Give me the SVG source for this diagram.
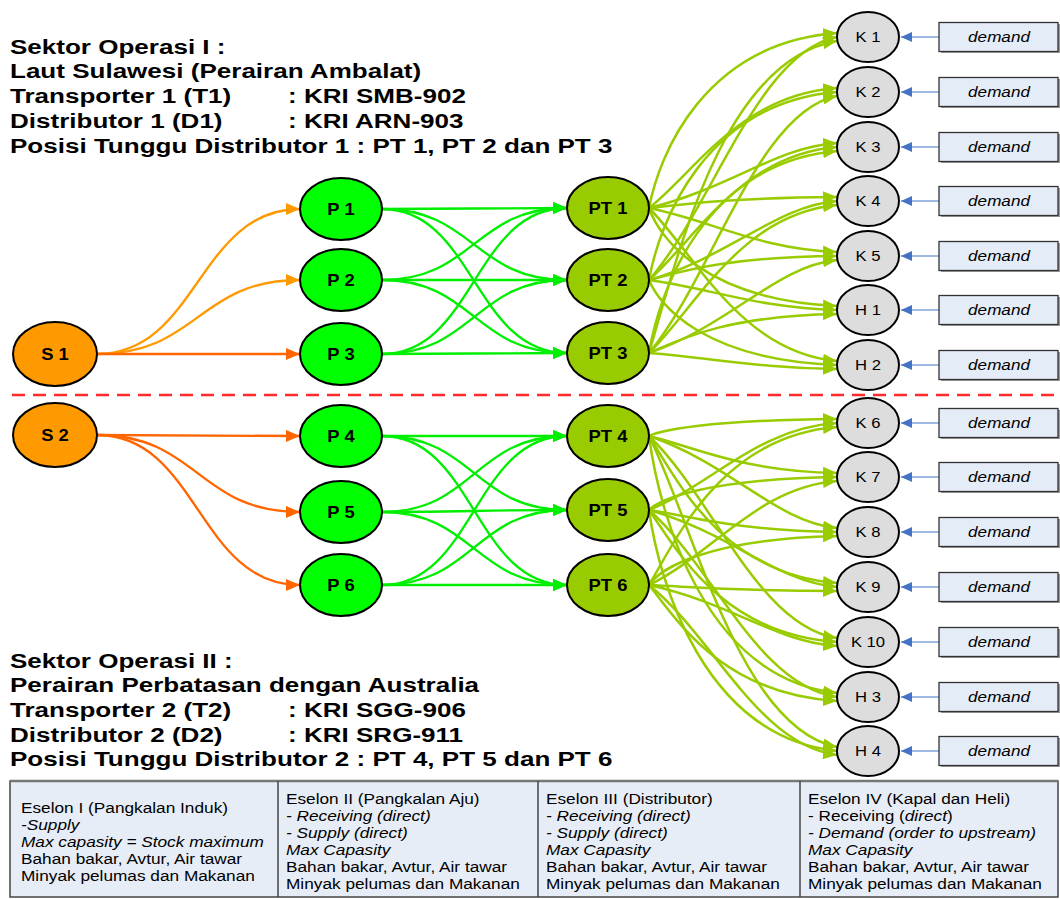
<svg xmlns="http://www.w3.org/2000/svg" width="1060" height="899" viewBox="0 0 1060 899">
<style>
text{font-family:"Liberation Sans",Arial,sans-serif;fill:#000}
.title{font-size:21px;font-weight:bold}
.nb{font-size:16px;font-weight:bold;text-anchor:middle}
.nk{font-size:14px;text-anchor:middle}
.dm{font-size:14.5px;font-style:italic;text-anchor:middle}
.tb{font-size:14.5px}
.it{font-style:italic}
ellipse{stroke:#000;stroke-width:2}
.s{fill:#FF9900}.p{fill:#00FF00}.pt{fill:#99CC00}.k{fill:#DDDDDD}
#connectors path,#connectors line{fill:none;stroke-width:2.3}
#connectors .ol{stroke-width:2.5}
.o1{stroke:#FF9900;marker-end:url(#mo1)}
.o2{stroke:#FF6600;marker-end:url(#mo2)}
.g{stroke:#00EE00;marker-end:url(#mg)}
.ol{stroke:#99CC00;marker-end:url(#mol)}
#connectors .bl{stroke:#7FA3D8;stroke-width:1.6;marker-end:url(#mb)}
.dbox{fill:#E4ECF7;stroke:#333;stroke-width:1.3}
.shadow{fill:#9a9a9a}
</style>
<defs>
<marker id="mo1" markerUnits="userSpaceOnUse" markerWidth="14" markerHeight="12" refX="14" refY="6" orient="auto"><path d="M0,0 L14,6 L0,12 z" style="fill:#FF9900;stroke:none"/></marker>
<marker id="mo2" markerUnits="userSpaceOnUse" markerWidth="14" markerHeight="12" refX="14" refY="6" orient="auto"><path d="M0,0 L14,6 L0,12 z" style="fill:#FF6600;stroke:none"/></marker>
<marker id="mg" markerUnits="userSpaceOnUse" markerWidth="14" markerHeight="12" refX="14" refY="6" orient="auto"><path d="M0,0 L14,6 L0,12 z" style="fill:#00EE00;stroke:none"/></marker>
<marker id="mol" markerUnits="userSpaceOnUse" markerWidth="14" markerHeight="12" refX="14" refY="6" orient="auto"><path d="M0,0 L14,6 L0,12 z" style="fill:#99CC00;stroke:none"/></marker>
<marker id="mb" markerUnits="userSpaceOnUse" markerWidth="11" markerHeight="10" refX="11" refY="5" orient="auto"><path d="M0,0 L11,5 L0,10 z" style="fill:#4472C4;stroke:none"/></marker>
</defs>
<rect width="1060" height="899" fill="#FFFFFF"/>

<g id="title1" class="title" transform="scale(1.24,1)">
<text x="8.06" y="54">Sektor Operasi I :</text>
<text x="8.06" y="78">Laut Sulawesi (Perairan Ambalat)</text>
<text x="8.06" y="103">Transporter 1 (T1)</text>
<text x="232.3" y="103">: KRI SMB-902</text>
<text x="8.06" y="128">Distributor 1 (D1)</text>
<text x="232.3" y="128">: KRI ARN-903</text>
<text x="8.06" y="153">Posisi Tunggu Distributor 1 : PT 1, PT 2 dan PT 3</text>
</g>
<g id="title2" class="title" transform="scale(1.24,1)">
<text x="8.06" y="668">Sektor Operasi II :</text>
<text x="8.06" y="692">Perairan Perbatasan dengan Australia</text>
<text x="8.06" y="717">Transporter 2 (T2)</text>
<text x="232.3" y="717">: KRI SGG-906</text>
<text x="8.06" y="742">Distributor 2 (D2)</text>
<text x="232.3" y="742">: KRI SRG-911</text>
<text x="8.06" y="766">Posisi Tunggu Distributor 2 : PT 4, PT 5 dan PT 6</text>
</g>

<line id="separator" x1="12" y1="395" x2="1060" y2="395" stroke="#FF2A2A" stroke-width="2.5" stroke-dasharray="13 8"/>

<g id="connectors">
<path class="o1" d="M97,354 C198,354 198,209 300,209"/>
<path class="o1" d="M97,354 C198,354 198,280 300,280"/>
<path class="o2" d="M97,354 L300,354"/>
<path class="o2" d="M97,435 L300,436"/>
<path class="o2" d="M97,435 C198,435 198,512 300,512"/>
<path class="o2" d="M97,435 C198,435 198,585 300,585"/>

<path class="g" d="M382,209 C474,209 474,208 567,208"/>
<path class="g" d="M382,209 C474,209 474,280 567,280"/>
<path class="g" d="M382,209 C474,209 474,353 567,353"/>
<path class="g" d="M382,280 C474,280 474,208 567,208"/>
<path class="g" d="M382,280 C474,280 474,280 567,280"/>
<path class="g" d="M382,280 C474,280 474,353 567,353"/>
<path class="g" d="M382,354 C474,354 474,208 567,208"/>
<path class="g" d="M382,354 C474,354 474,280 567,280"/>
<path class="g" d="M382,354 C474,354 474,353 567,353"/>

<path class="g" d="M382,436 C474,436 474,436 567,436"/>
<path class="g" d="M382,436 C474,436 474,510 567,510"/>
<path class="g" d="M382,436 C474,436 474,585 567,585"/>
<path class="g" d="M382,512 C474,512 474,436 567,436"/>
<path class="g" d="M382,512 C474,512 474,510 567,510"/>
<path class="g" d="M382,512 C474,512 474,585 567,585"/>
<path class="g" d="M382,585 C474,585 474,436 567,436"/>
<path class="g" d="M382,585 C474,585 474,510 567,510"/>
<path class="g" d="M382,585 C474,585 474,585 567,585"/>

<path class="ol" d="M649,208 C659,155 704,43 837,33"/>
<path class="ol" d="M649,208 C695,172 740,95 837,88"/>
<path class="ol" d="M649,208 C731,188 776,147 837,143"/>
<path class="ol" d="M649,208 C677,205 722,198 837,197"/>
<path class="ol" d="M649,208 C713,221 758,249 837,252"/>
<path class="ol" d="M649,208 C659,237 704,300 837,306"/>
<path class="ol" d="M649,208 C695,254 740,352 837,361"/>
<path class="ol" d="M649,280 C713,207 758,52 837,37"/>
<path class="ol" d="M649,280 C659,224 704,103 837,92"/>
<path class="ol" d="M649,280 C695,240 740,155 837,147"/>
<path class="ol" d="M649,280 C731,256 776,206 837,201"/>
<path class="ol" d="M649,280 C677,273 722,257 837,256"/>
<path class="ol" d="M649,280 C713,289 758,308 837,310"/>
<path class="ol" d="M649,280 C659,305 704,360 837,365"/>
<path class="ol" d="M649,353 C677,259 722,60 837,41"/>
<path class="ol" d="M649,353 C713,276 758,111 837,96"/>
<path class="ol" d="M649,353 C659,292 704,163 837,151"/>
<path class="ol" d="M649,353 C695,309 740,214 837,205"/>
<path class="ol" d="M649,353 C731,325 776,266 837,260"/>
<path class="ol" d="M649,353 C677,341 722,316 837,314"/>
<path class="ol" d="M649,353 C713,358 758,368 837,369"/>

<path class="ol" d="M649,436 C659,431 704,420 837,419"/>
<path class="ol" d="M649,436 C695,447 740,471 837,473"/>
<path class="ol" d="M649,436 C731,464 776,522 837,528"/>
<path class="ol" d="M649,436 C677,480 722,574 837,583"/>
<path class="ol" d="M649,436 C713,497 758,626 837,638"/>
<path class="ol" d="M649,436 C659,513 704,678 837,693"/>
<path class="ol" d="M649,436 C695,529 740,728 837,747"/>
<path class="ol" d="M649,510 C713,484 758,428 837,423"/>
<path class="ol" d="M649,510 C659,500 704,479 837,477"/>
<path class="ol" d="M649,510 C695,517 740,531 837,532"/>
<path class="ol" d="M649,510 C731,533 776,582 837,587"/>
<path class="ol" d="M649,510 C677,550 722,634 837,642"/>
<path class="ol" d="M649,510 C713,566 758,686 837,697"/>
<path class="ol" d="M649,510 C659,582 704,737 837,751"/>
<path class="ol" d="M649,585 C677,538 722,436 837,427"/>
<path class="ol" d="M649,585 C713,554 758,487 837,481"/>
<path class="ol" d="M649,585 C659,570 704,539 837,536"/>
<path class="ol" d="M649,585 C695,587 740,591 837,591"/>
<path class="ol" d="M649,585 C731,603 776,642 837,646"/>
<path class="ol" d="M649,585 C677,620 722,694 837,701"/>
<path class="ol" d="M649,585 C713,636 758,745 837,755"/>

<line class="bl" x1="939" y1="37" x2="901" y2="37"/>
<line class="bl" x1="939" y1="92" x2="901" y2="92"/>
<line class="bl" x1="939" y1="147" x2="901" y2="147"/>
<line class="bl" x1="939" y1="201" x2="901" y2="201"/>
<line class="bl" x1="939" y1="256" x2="901" y2="256"/>
<line class="bl" x1="939" y1="310" x2="901" y2="310"/>
<line class="bl" x1="939" y1="365" x2="901" y2="365"/>
<line class="bl" x1="939" y1="423" x2="901" y2="423"/>
<line class="bl" x1="939" y1="477" x2="901" y2="477"/>
<line class="bl" x1="939" y1="532" x2="901" y2="532"/>
<line class="bl" x1="939" y1="587" x2="901" y2="587"/>
<line class="bl" x1="939" y1="642" x2="901" y2="642"/>
<line class="bl" x1="939" y1="697" x2="901" y2="697"/>
<line class="bl" x1="939" y1="751" x2="901" y2="751"/>
</g>

<g id="S1"><ellipse class="s" cx="55" cy="354" rx="42" ry="32"/><text class="nb" transform="translate(55,354) scale(1.15,1)" y="5.5">S 1</text></g>
<g id="S2"><ellipse class="s" cx="55" cy="435" rx="42" ry="32"/><text class="nb" transform="translate(55,435) scale(1.15,1)" y="5.5">S 2</text></g>

<g id="P1"><ellipse class="p" cx="341" cy="209" rx="41" ry="31"/><text class="nb" transform="translate(341,209) scale(1.15,1)" y="5.5">P 1</text></g>
<g id="P2"><ellipse class="p" cx="341" cy="280" rx="41" ry="31"/><text class="nb" transform="translate(341,280) scale(1.15,1)" y="5.5">P 2</text></g>
<g id="P3"><ellipse class="p" cx="341" cy="354" rx="41" ry="31"/><text class="nb" transform="translate(341,354) scale(1.15,1)" y="5.5">P 3</text></g>
<g id="P4"><ellipse class="p" cx="341" cy="436" rx="41" ry="31"/><text class="nb" transform="translate(341,436) scale(1.15,1)" y="5.5">P 4</text></g>
<g id="P5"><ellipse class="p" cx="341" cy="512" rx="41" ry="31"/><text class="nb" transform="translate(341,512) scale(1.15,1)" y="5.5">P 5</text></g>
<g id="P6"><ellipse class="p" cx="341" cy="585" rx="41" ry="31"/><text class="nb" transform="translate(341,585) scale(1.15,1)" y="5.5">P 6</text></g>

<g id="PT1"><ellipse class="pt" cx="608" cy="208" rx="41" ry="31"/><text class="nb" transform="translate(608,208) scale(1.15,1)" y="5.5">PT 1</text></g>
<g id="PT2"><ellipse class="pt" cx="608" cy="280" rx="41" ry="31"/><text class="nb" transform="translate(608,280) scale(1.15,1)" y="5.5">PT 2</text></g>
<g id="PT3"><ellipse class="pt" cx="608" cy="353" rx="41" ry="31"/><text class="nb" transform="translate(608,353) scale(1.15,1)" y="5.5">PT 3</text></g>
<g id="PT4"><ellipse class="pt" cx="608" cy="436" rx="41" ry="31"/><text class="nb" transform="translate(608,436) scale(1.15,1)" y="5.5">PT 4</text></g>
<g id="PT5"><ellipse class="pt" cx="608" cy="510" rx="41" ry="31"/><text class="nb" transform="translate(608,510) scale(1.15,1)" y="5.5">PT 5</text></g>
<g id="PT6"><ellipse class="pt" cx="608" cy="585" rx="41" ry="31"/><text class="nb" transform="translate(608,585) scale(1.15,1)" y="5.5">PT 6</text></g>

<g id="K1"><ellipse class="k" cx="868" cy="37" rx="31" ry="25"/><text class="nk" transform="translate(868,37) scale(1.19,1)" y="5">K 1</text></g>
<g id="K2"><ellipse class="k" cx="868" cy="92" rx="31" ry="25"/><text class="nk" transform="translate(868,92) scale(1.19,1)" y="5">K 2</text></g>
<g id="K3"><ellipse class="k" cx="868" cy="147" rx="31" ry="25"/><text class="nk" transform="translate(868,147) scale(1.19,1)" y="5">K 3</text></g>
<g id="K4"><ellipse class="k" cx="868" cy="201" rx="31" ry="25"/><text class="nk" transform="translate(868,201) scale(1.19,1)" y="5">K 4</text></g>
<g id="K5"><ellipse class="k" cx="868" cy="256" rx="31" ry="25"/><text class="nk" transform="translate(868,256) scale(1.19,1)" y="5">K 5</text></g>
<g id="H1"><ellipse class="k" cx="868" cy="310" rx="31" ry="25"/><text class="nk" transform="translate(868,310) scale(1.19,1)" y="5">H 1</text></g>
<g id="H2"><ellipse class="k" cx="868" cy="365" rx="31" ry="25"/><text class="nk" transform="translate(868,365) scale(1.19,1)" y="5">H 2</text></g>
<g id="K6"><ellipse class="k" cx="868" cy="423" rx="31" ry="25"/><text class="nk" transform="translate(868,423) scale(1.19,1)" y="5">K 6</text></g>
<g id="K7"><ellipse class="k" cx="868" cy="477" rx="31" ry="25"/><text class="nk" transform="translate(868,477) scale(1.19,1)" y="5">K 7</text></g>
<g id="K8"><ellipse class="k" cx="868" cy="532" rx="31" ry="25"/><text class="nk" transform="translate(868,532) scale(1.19,1)" y="5">K 8</text></g>
<g id="K9"><ellipse class="k" cx="868" cy="587" rx="31" ry="25"/><text class="nk" transform="translate(868,587) scale(1.19,1)" y="5">K 9</text></g>
<g id="K10"><ellipse class="k" cx="868" cy="642" rx="31" ry="25"/><text class="nk" transform="translate(868,642) scale(1.19,1)" y="5">K 10</text></g>
<g id="H3"><ellipse class="k" cx="868" cy="697" rx="31" ry="25"/><text class="nk" transform="translate(868,697) scale(1.19,1)" y="5">H 3</text></g>
<g id="H4"><ellipse class="k" cx="868" cy="751" rx="31" ry="25"/><text class="nk" transform="translate(868,751) scale(1.19,1)" y="5">H 4</text></g>

<g id="D1"><rect class="shadow" x="941" y="24" width="120" height="29"/><rect class="dbox" x="939" y="22.5" width="119" height="29"/><text class="dm" transform="translate(999,37) scale(1.18,1)" y="5">demand</text></g>
<g id="D2"><rect class="shadow" x="941" y="79" width="120" height="29"/><rect class="dbox" x="939" y="77.5" width="119" height="29"/><text class="dm" transform="translate(999,92) scale(1.18,1)" y="5">demand</text></g>
<g id="D3"><rect class="shadow" x="941" y="134" width="120" height="29"/><rect class="dbox" x="939" y="132.5" width="119" height="29"/><text class="dm" transform="translate(999,147) scale(1.18,1)" y="5">demand</text></g>
<g id="D4"><rect class="shadow" x="941" y="188" width="120" height="29"/><rect class="dbox" x="939" y="186.5" width="119" height="29"/><text class="dm" transform="translate(999,201) scale(1.18,1)" y="5">demand</text></g>
<g id="D5"><rect class="shadow" x="941" y="243" width="120" height="29"/><rect class="dbox" x="939" y="241.5" width="119" height="29"/><text class="dm" transform="translate(999,256) scale(1.18,1)" y="5">demand</text></g>
<g id="D6"><rect class="shadow" x="941" y="297" width="120" height="29"/><rect class="dbox" x="939" y="295.5" width="119" height="29"/><text class="dm" transform="translate(999,310) scale(1.18,1)" y="5">demand</text></g>
<g id="D7"><rect class="shadow" x="941" y="352" width="120" height="29"/><rect class="dbox" x="939" y="350.5" width="119" height="29"/><text class="dm" transform="translate(999,365) scale(1.18,1)" y="5">demand</text></g>
<g id="D8"><rect class="shadow" x="941" y="410" width="120" height="29"/><rect class="dbox" x="939" y="408.5" width="119" height="29"/><text class="dm" transform="translate(999,423) scale(1.18,1)" y="5">demand</text></g>
<g id="D9"><rect class="shadow" x="941" y="464" width="120" height="29"/><rect class="dbox" x="939" y="462.5" width="119" height="29"/><text class="dm" transform="translate(999,477) scale(1.18,1)" y="5">demand</text></g>
<g id="D10"><rect class="shadow" x="941" y="519" width="120" height="29"/><rect class="dbox" x="939" y="517.5" width="119" height="29"/><text class="dm" transform="translate(999,532) scale(1.18,1)" y="5">demand</text></g>
<g id="D11"><rect class="shadow" x="941" y="574" width="120" height="29"/><rect class="dbox" x="939" y="572.5" width="119" height="29"/><text class="dm" transform="translate(999,587) scale(1.18,1)" y="5">demand</text></g>
<g id="D12"><rect class="shadow" x="941" y="629" width="120" height="29"/><rect class="dbox" x="939" y="627.5" width="119" height="29"/><text class="dm" transform="translate(999,642) scale(1.18,1)" y="5">demand</text></g>
<g id="D13"><rect class="shadow" x="941" y="684" width="120" height="29"/><rect class="dbox" x="939" y="682.5" width="119" height="29"/><text class="dm" transform="translate(999,697) scale(1.18,1)" y="5">demand</text></g>
<g id="D14"><rect class="shadow" x="941" y="738" width="120" height="29"/><rect class="dbox" x="939" y="736.5" width="119" height="29"/><text class="dm" transform="translate(999,751) scale(1.18,1)" y="5">demand</text></g>

<g id="legend-table">
<rect x="10" y="781" width="1048" height="116" fill="#E7EDF6" stroke="#444" stroke-width="1.5"/>
<line x1="10" y1="781" x2="1058" y2="781" stroke="#777" stroke-width="2.5"/>
<line x1="278" y1="781" x2="278" y2="897" stroke="#444" stroke-width="1.5"/>
<line x1="538" y1="781" x2="538" y2="897" stroke="#444" stroke-width="1.5"/>
<line x1="800" y1="781" x2="800" y2="897" stroke="#444" stroke-width="1.5"/>
<g transform="translate(21,0) scale(1.19,1)">
<text class="tb" x="0" y="813">Eselon I (Pangkalan Induk)</text>
<text class="tb it" x="0" y="830">-Supply</text>
<text class="tb it" x="0" y="847">Max capasity = Stock maximum</text>
<text class="tb" x="0" y="864">Bahan bakar, Avtur, Air tawar</text>
<text class="tb" x="0" y="881">Minyak pelumas dan Makanan</text>
</g>
<g transform="translate(286,0) scale(1.19,1)">
<text class="tb" x="0" y="804">Eselon II (Pangkalan Aju)</text>
<text class="tb it" x="0" y="821">- Receiving (direct)</text>
<text class="tb it" x="0" y="838">- Supply (direct)</text>
<text class="tb it" x="0" y="855">Max Capasity</text>
<text class="tb" x="0" y="872">Bahan bakar, Avtur, Air tawar</text>
<text class="tb" x="0" y="889">Minyak pelumas dan Makanan</text>
</g>
<g transform="translate(546,0) scale(1.19,1)">
<text class="tb" x="0" y="804">Eselon III (Distributor)</text>
<text class="tb it" x="0" y="821">- Receiving (direct)</text>
<text class="tb it" x="0" y="838">- Supply (direct)</text>
<text class="tb it" x="0" y="855">Max Capasity</text>
<text class="tb" x="0" y="872">Bahan bakar, Avtur, Air tawar</text>
<text class="tb" x="0" y="889">Minyak pelumas dan Makanan</text>
</g>
<g transform="translate(808,0) scale(1.19,1)">
<text class="tb" x="0" y="804">Eselon IV (Kapal dan Heli)</text>
<text class="tb" x="0" y="821">- Receiving (<tspan class="it">direct</tspan>)</text>
<text class="tb it" x="0" y="838">- Demand (order to upstream)</text>
<text class="tb it" x="0" y="855">Max Capasity</text>
<text class="tb" x="0" y="872">Bahan bakar, Avtur, Air tawar</text>
<text class="tb" x="0" y="889">Minyak pelumas dan Makanan</text>
</g>
</g>
</svg>
